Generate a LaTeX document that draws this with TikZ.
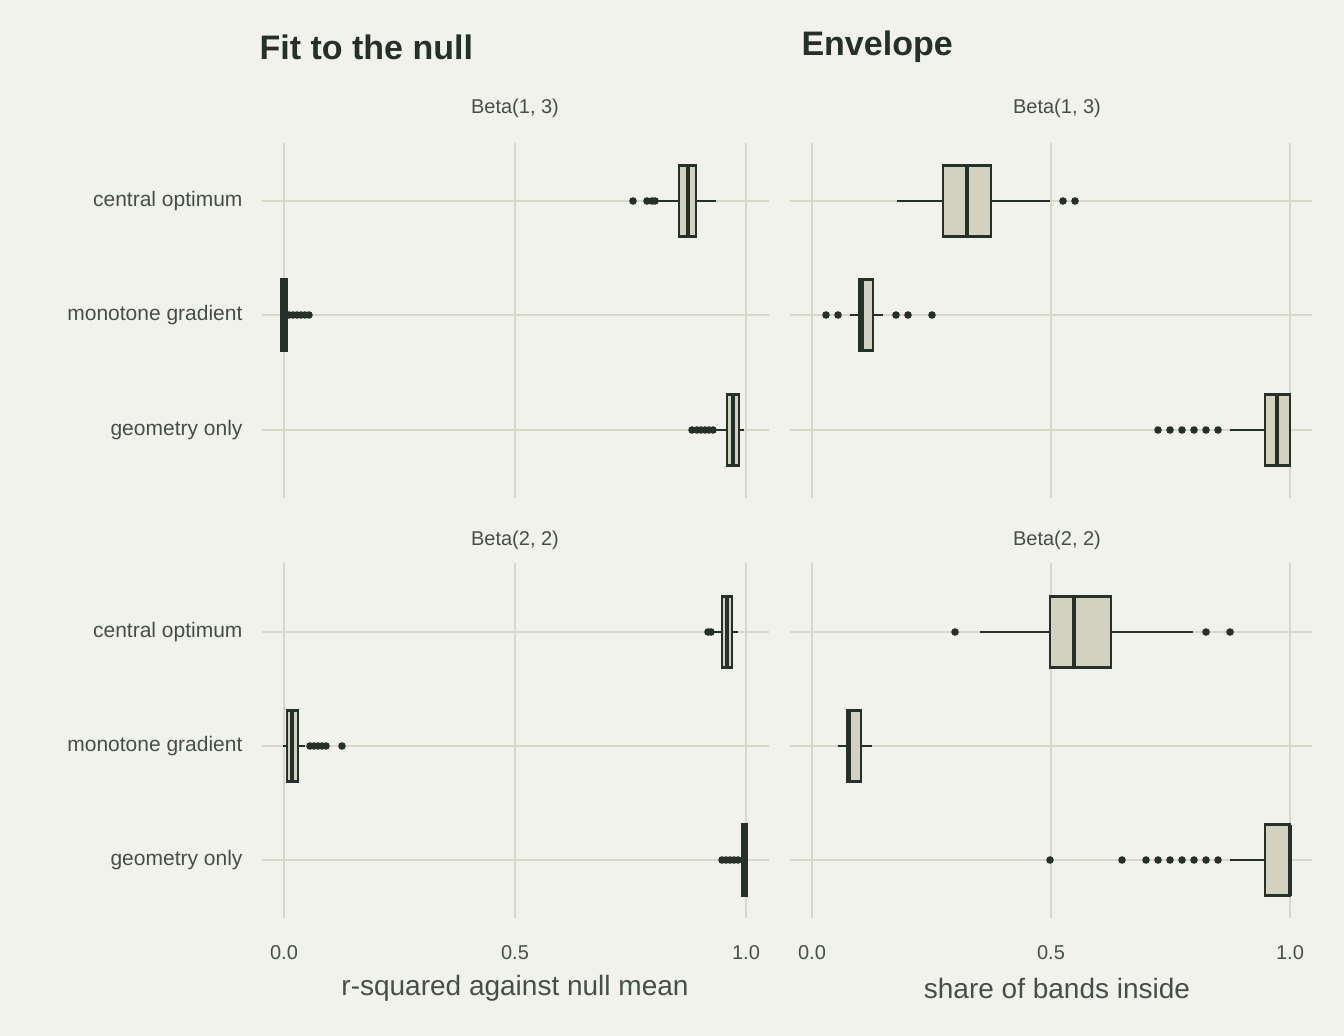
\documentclass[tikz,border=0pt]{standalone}
\usepackage{fontspec}
\setmainfont{Liberation Sans}
\usetikzlibrary{positioning}
\definecolor{bgc}{HTML}{F2F2EC}
\definecolor{gridc}{HTML}{D8D8C8}
\definecolor{boxc}{HTML}{D3D1C0}
\definecolor{inkc}{HTML}{243028}
\tikzset{
  grid/.style={gridc, line width=1.5},
  box/.style={draw=inkc, fill=boxc, line width=2.5},
  whisk/.style={inkc, line width=2.5},
  med/.style={inkc, line width=4},
  dot/.style={fill=inkc},
  ylab/.style={anchor=east, font=\fontsize{21}{21}\selectfont, text=inkc!85},
  tlab/.style={anchor=center, font=\fontsize{20}{20}\selectfont, text=inkc!85},
}
% \bx{y}{box lo}{box hi}{median}{whisker lo}{whisker hi}{outliers}
\newcommand{\bx}[7]{
  \draw[whisk] (#5,#1) -- (#6,#1);
  \draw[box] (#2,#1-35.5) rectangle (#3,#1+35.5);
  \draw[med] (#4,#1-35.5) -- (#4,#1+35.5);
  \foreach \o in {#7} {\fill[dot] (\o,#1) circle (3.8);}
}
\begin{document}
\begin{tikzpicture}[x=1pt, y=-1pt]
\fill[bgc] (0,0) rectangle (1344,1036);
\useasboundingbox (0,0) rectangle (1344,1036);

% panel grids
\foreach \py in {143,563} {
  \foreach \gx in {284,515,746} \draw[grid] (\gx,\py) -- (\gx,\py+355);
  \foreach \gx in {812,1051,1290} \draw[grid] (\gx,\py) -- (\gx,\py+355);
}
\foreach \ry in {201,315,430,632,746,860} {
  \draw[grid] (262,\ry) -- (769,\ry);
  \draw[grid] (790,\ry) -- (1312,\ry);
}

% titles
\node[anchor=west, font=\bfseries\fontsize{34}{34}\selectfont, text=inkc] (tfit) at (256,47) {Fit to the null};
\node[anchor=west, font=\bfseries\fontsize{34}{34}\selectfont, text=inkc] (tenv) at (798,47) {Envelope};
\node[tlab] (s1) at (515,108) {Beta(1, 3)};
\node[tlab] (s2) at (1057,108) {Beta(1, 3)};
\node[tlab] (s3) at (515,540) {Beta(2, 2)};
\node[tlab] (s4) at (1057,540) {Beta(2, 2)};

% row labels
\foreach \ry in {201,632} \node[ylab] at (246,\ry) {central optimum};
\foreach \ry in {315,746} \node[ylab] at (246,\ry) {monotone gradient};
\foreach \ry in {430,860} \node[ylab] at (246,\ry) {geometry only};

% x ticks
\node[tlab] (a0) at (284,953) {0.0};
\node[tlab] (a5) at (515,953) {0.5};
\node[tlab] (a1) at (746,953) {1.0};
\node[tlab] (b0) at (812,953) {0.0};
\node[tlab] (b5) at (1051,953) {0.5};
\node[tlab] (b1) at (1290,953) {1.0};
\node[tlab, font=\fontsize{28}{28}\selectfont] (xa) at (515,988) {r-squared against null mean};
\node[tlab, font=\fontsize{28}{28}\selectfont] (xb) at (1057,988) {share of bands inside};

% Fit to the null, Beta(1, 3)
\bx{201}{679}{696}{688}{657}{716}{633,647,652,655}
\bx{315}{281}{287}{284}{284}{300}{289,293,297,301,305,309}
\bx{430}{727}{739}{733}{715}{744}{692,697,701,705,709,713}
% Envelope, Beta(1, 3)
\bx{201}{943}{991}{967}{897}{1050}{1063,1075}
\bx{315}{859}{873}{862}{850}{883}{826,838,896,908,932}
\bx{430}{1265}{1290}{1277}{1230}{1290}{1158,1170,1182,1194,1206,1218}
% Fit to the null, Beta(2, 2)
\bx{632}{722}{732}{727}{705}{738}{708,711}
\bx{746}{287}{298}{292}{283}{305}{310,314,318,322,326,342}
\bx{860}{742}{747}{745}{740}{747}{722,726,730,734,738}
% Envelope, Beta(2, 2)
\bx{632}{1050}{1111}{1074}{980}{1193}{955,1206,1230}
\bx{746}{847}{861}{849}{838}{872}{}
\bx{860}{1265}{1290}{1290}{1230}{1290}{1050,1122,1146,1158,1170,1182,1194,1206,1218}
\end{tikzpicture}
\end{document}
